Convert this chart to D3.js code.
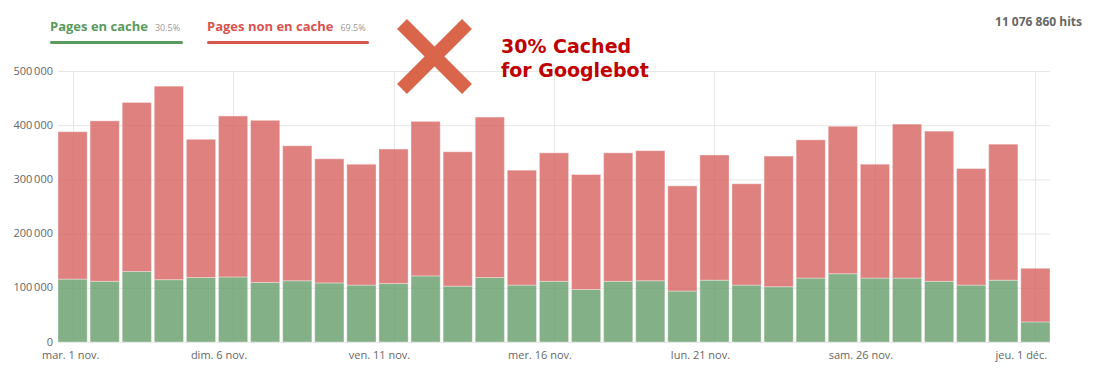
<!DOCTYPE html>
<html>
<head>
<meta charset="utf-8">
<script src="https://cdn.jsdelivr.net/npm/d3@7"></script>
<style>
  body { margin: 0; background: #fff; }
  svg { display: block; font-family: 'Open Sans', sans-serif; }
</style>
</head>
<body>
<div id="chart"></div>
<script>
// one bar per day, 1 nov. -> 1 déc.
const days = [
  'mar. 1 nov.', '2 nov.', '3 nov.', '4 nov.', '5 nov.', 'dim. 6 nov.', '7 nov.', '8 nov.',
  '9 nov.', '10 nov.', 'ven. 11 nov.', '12 nov.', '13 nov.', '14 nov.', '15 nov.',
  'mer. 16 nov.', '17 nov.', '18 nov.', '19 nov.', '20 nov.', 'lun. 21 nov.', '22 nov.',
  '23 nov.', '24 nov.', '25 nov.', 'sam. 26 nov.', '27 nov.', '28 nov.', '29 nov.',
  '30 nov.', 'jeu. 1 déc.'
];
const cached = [
  116000, 112000, 130000, 115000, 119000, 120000, 110000, 113000, 109000, 105000,
  108000, 122000, 103000, 119000, 105000, 112000, 97000, 112000, 113000, 94000,
  114000, 105000, 102000, 118000, 126000, 118000, 118000, 112000, 105000, 114000,
  37000
];
const notCached = [
  272000, 296000, 312000, 357000, 255000, 297000, 299000, 249000, 229000, 223000,
  248000, 285000, 248000, 296000, 212000, 237000, 212000, 237000, 240000, 194000,
  231000, 187000, 241000, 255000, 272000, 210000, 284000, 277000, 215000, 251000,
  99000
];
const labeledDays = ['mar. 1 nov.', 'dim. 6 nov.', 'ven. 11 nov.', 'mer. 16 nov.',
  'lun. 21 nov.', 'sam. 26 nov.', 'jeu. 1 déc.'];
const yTicks = [0, 100000, 200000, 300000, 400000, 500000];
const legendItems = [
  { name: 'Pages en cache', pct: '30.5%', color: '#5a9a5c' },
  { name: 'Pages non en cache', pct: '69.5%', color: '#d9534f' }
];
const totalHits = '11 076 860 hits';

const width = 1093, height = 372;
const margin = { top: 71, right: 43, bottom: 30, left: 58 };

const svg = d3.select('#chart').append('svg')
  .attr('width', width)
  .attr('height', height);

const x = d3.scaleBand()
  .domain(days)
  .range([margin.left, width - margin.right])
  .paddingInner(0.09)
  .paddingOuter(0);

const y = d3.scaleLinear()
  .domain([0, 500000])
  .range([height - margin.bottom, margin.top]);

const fmt = d3.formatLocale({ decimal: ',', thousands: '\u2009', grouping: [3], currency: ['', ' €'] }).format(',d');

// grid
svg.append('g')
  .selectAll('line')
  .data(yTicks)
  .join('line')
  .attr('x1', margin.left)
  .attr('x2', width - margin.right)
  .attr('y1', d => y(d) + 0.5)
  .attr('y2', d => y(d) + 0.5)
  .attr('stroke', '#e6e6e6');

svg.append('g')
  .selectAll('line')
  .data(labeledDays)
  .join('line')
  .attr('x1', d => Math.round(x(d) + x.bandwidth() / 2) + 0.5)
  .attr('x2', d => Math.round(x(d) + x.bandwidth() / 2) + 0.5)
  .attr('y1', y(500000))
  .attr('y2', y(0))
  .attr('stroke', '#e6e6e6');

// stacked bars
const rows = days.map((d, i) => ({ day: d, cached: cached[i], notCached: notCached[i] }));
const stack = d3.stack().keys(['cached', 'notCached'])(rows);
const fills = ['rgb(101,156,105)', 'rgb(215,99,95)'];

svg.append('g')
  .selectAll('g')
  .data(stack)
  .join('g')
  .attr('fill', (d, i) => fills[i])
  .attr('fill-opacity', 0.8)
  .selectAll('rect')
  .data(d => d)
  .join('rect')
  .attr('x', d => x(d.data.day))
  .attr('y', d => y(d[1]))
  .attr('width', x.bandwidth())
  .attr('height', d => y(d[0]) - y(d[1]))
  .attr('stroke', '#fff')
  .attr('stroke-opacity', 0.35)
  .attr('stroke-width', 1);

// y axis labels
svg.append('g')
  .selectAll('text')
  .data(yTicks)
  .join('text')
  .attr('x', margin.left - 5)
  .attr('y', d => y(d) + 3.5)
  .attr('text-anchor', 'end')
  .attr('font-size', 11)
  .attr('fill', '#666')
  .text(d => fmt(d));

// x axis labels (kept inside the left edge like the original)
svg.append('g')
  .selectAll('text')
  .data(labeledDays)
  .join('text')
  .attr('x', d => x(d) + x.bandwidth() / 2 - 14)
  .attr('y', height - margin.bottom + 17)
  .attr('text-anchor', 'middle')
  .attr('font-size', 11)
  .attr('fill', '#666')
  .text(d => d)
  .each(function () {
    const b = this.getBBox();
    if (b.x < 42) d3.select(this).attr('x', +d3.select(this).attr('x') + 42 - b.x);
  });

// legend
const legendX = [50, 207];
const legendW = [133, 162];
legendItems.forEach((item, i) => {
  const g = svg.append('g').attr('transform', `translate(${legendX[i]},0)`);
  const t = g.append('text')
    .attr('x', 0).attr('y', 31)
    .attr('font-size', 13)
    .attr('font-weight', 700)
    .attr('fill', item.color)
    .text(item.name);
  const w = t.node().getComputedTextLength();
  g.append('text')
    .attr('x', w + 7).attr('y', 31)
    .attr('font-size', 9)
    .attr('fill', '#999')
    .text(item.pct);
  g.append('rect')
    .attr('x', 0).attr('y', 41)
    .attr('width', legendW[i]).attr('height', 3)
    .attr('rx', 1.5)
    .attr('fill', item.color);
});

// total hits
svg.append('text')
  .attr('x', 1082).attr('y', 26)
  .attr('text-anchor', 'end')
  .attr('font-size', 12)
  .attr('font-weight', 700)
  .attr('fill', '#666')
  .text(totalHits);

// annotation: big cross + note
const cross = svg.append('g').attr('stroke', '#d9664a').attr('stroke-width', 14);
cross.append('line').attr('x1', 402).attr('y1', 24).attr('x2', 467).attr('y2', 89);
cross.append('line').attr('x1', 467).attr('y1', 24).attr('x2', 402).attr('y2', 89);

const note = svg.append('text')
  .attr('font-family', 'DejaVu Sans, Verdana, sans-serif')
  .attr('font-size', 19)
  .attr('font-weight', 700)
  .attr('fill', '#c00000');
note.append('tspan').attr('x', 501).attr('y', 53).text('30% Cached');
note.append('tspan').attr('x', 501).attr('y', 77).text('for Googlebot');
</script>
</body>
</html>
